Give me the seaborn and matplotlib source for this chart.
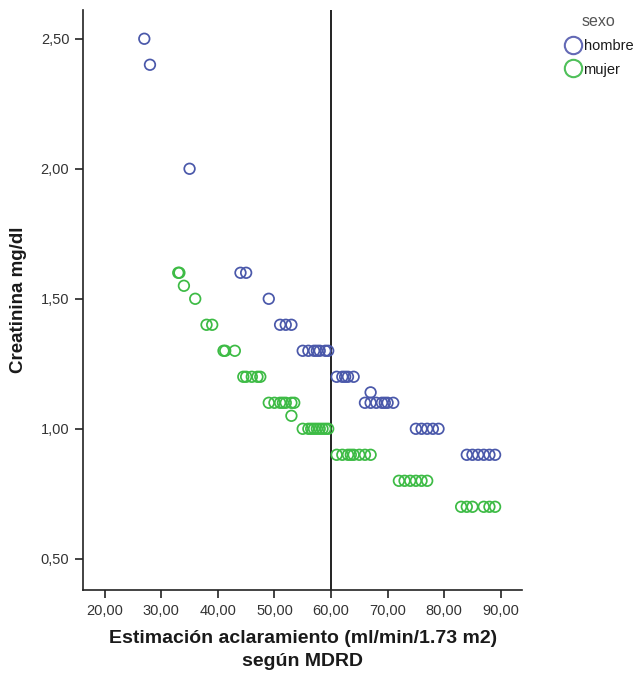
import matplotlib
matplotlib.use("Agg")
import matplotlib.pyplot as plt
from matplotlib.ticker import FuncFormatter, FixedLocator
from matplotlib.lines import Line2D
import seaborn as sns
import pandas as pd

# Estimated clearance (MDRD) and serum creatinine, by sex
hombre_x = [27, 28, 35, 44, 45, 49, 51, 52, 53,
            55, 56, 57, 57.5, 58, 59, 59.5,
            61, 62, 62.5, 63, 64,
            66, 67, 68, 69, 69.5, 70, 71, 67,
            75, 76, 77, 78, 79,
            84, 85, 86, 87, 88, 89]
hombre_y = [2.50, 2.40, 2.00, 1.60, 1.60, 1.50, 1.40, 1.40, 1.40,
            1.30, 1.30, 1.30, 1.30, 1.30, 1.30, 1.30,
            1.20, 1.20, 1.20, 1.20, 1.20,
            1.10, 1.10, 1.10, 1.10, 1.10, 1.10, 1.10, 1.14,
            1.00, 1.00, 1.00, 1.00, 1.00,
            0.90, 0.90, 0.90, 0.90, 0.90, 0.90]

mujer_x = [33, 33.2, 34, 36, 38, 39, 41, 41.3, 43,
           44.5, 45, 46, 47, 47.5,
           49, 50, 51, 51.5, 52, 53, 53.5, 53,
           55, 56, 56.5, 57, 57.5, 58, 58.5, 59, 59.5,
           61, 62, 63, 63.5, 64, 65, 66, 67,
           72, 73, 74, 75, 76, 77,
           83, 84, 85, 87, 88, 89]
mujer_y = [1.60, 1.60, 1.55, 1.50, 1.40, 1.40, 1.30, 1.30, 1.30,
           1.20, 1.20, 1.20, 1.20, 1.20,
           1.10, 1.10, 1.10, 1.10, 1.10, 1.10, 1.10, 1.05,
           1.00, 1.00, 1.00, 1.00, 1.00, 1.00, 1.00, 1.00, 1.00,
           0.90, 0.90, 0.90, 0.90, 0.90, 0.90, 0.90, 0.90,
           0.80, 0.80, 0.80, 0.80, 0.80, 0.80,
           0.70, 0.70, 0.70, 0.70, 0.70, 0.70]

sexo_levels = ["hombre", "mujer"]
sexo_colors = {"hombre": "#4a58aa", "mujer": "#3dbb45"}
legend_colors = {"hombre": "#6369b5", "mujer": "#4fc05a"}
x_ticks = [20, 30, 40, 50, 60, 70, 80, 90]
y_ticks = [0.50, 1.00, 1.50, 2.00, 2.50]
cutoff = 60

df = pd.concat([
    pd.DataFrame({"mdrd": hombre_x, "creat": hombre_y, "sexo": "hombre"}),
    pd.DataFrame({"mdrd": mujer_x, "creat": mujer_y, "sexo": "mujer"}),
], ignore_index=True)

sns.set_theme(style="white")
plt.rcParams["font.family"] = ["Liberation Sans", "DejaVu Sans"]

fig = plt.figure(figsize=(6.4, 6.77), dpi=100)
ax = fig.add_axes([0.130, 0.1285, 0.686, 0.8565])

for sexo in sexo_levels:
    sub = df[df["sexo"] == sexo]
    sns.scatterplot(data=sub, x="mdrd", y="creat", ax=ax, marker="o",
                    s=58, facecolors="none", edgecolor=sexo_colors[sexo],
                    linewidth=1.25, legend=False)

ax.axvline(cutoff, color="#222222", linewidth=1.4, zorder=0)

ax.set_xlim(16.2, 93.8)
ax.set_ylim(0.38, 2.61)
ax.xaxis.set_major_locator(FixedLocator(x_ticks))
ax.yaxis.set_major_locator(FixedLocator(y_ticks))
fmt = FuncFormatter(lambda v, _: f"{v:.2f}".replace(".", ","))
ax.xaxis.set_major_formatter(fmt)
ax.yaxis.set_major_formatter(fmt)

for side in ["top", "right"]:
    ax.spines[side].set_visible(False)
for side in ["left", "bottom"]:
    ax.spines[side].set_color("#222222")
    ax.spines[side].set_linewidth(1.2)

ax.tick_params(axis="both", which="major", direction="out", length=6,
               width=1.2, color="#222222", labelsize=10.5, labelcolor="#333333",
               bottom=True, left=True, pad=4)

ax.set_xlabel("Estimación aclaramiento (ml/min/1.73 m2)\nsegún MDRD",
              fontsize=14, fontweight="bold", color="#1a1a1a", labelpad=9,
              linespacing=1.4)
ax.set_ylabel("Creatinina mg/dl", fontsize=13.5, fontweight="bold",
              color="#1a1a1a", labelpad=10)

handles = [Line2D([], [], linestyle="none", marker="o", markersize=12.5,
                  markerfacecolor="none", markeredgecolor=legend_colors[s],
                  markeredgewidth=1.5, label=s) for s in sexo_levels]
leg = fig.legend(handles=handles, title="sexo", loc="upper left",
                 bbox_to_anchor=(0.881, 0.979), frameon=False, fontsize=10.5,
                 title_fontsize=11.5, handletextpad=0.15, handlelength=1.2,
                 labelspacing=0.66, borderaxespad=0, borderpad=0)
leg.get_title().set_color("#555555")
for t in leg.get_texts():
    t.set_color("#1a1a1a")
leg._legend_box.align = "center"
leg._legend_box.sep = 7

fig.savefig("out.png", dpi=100)
